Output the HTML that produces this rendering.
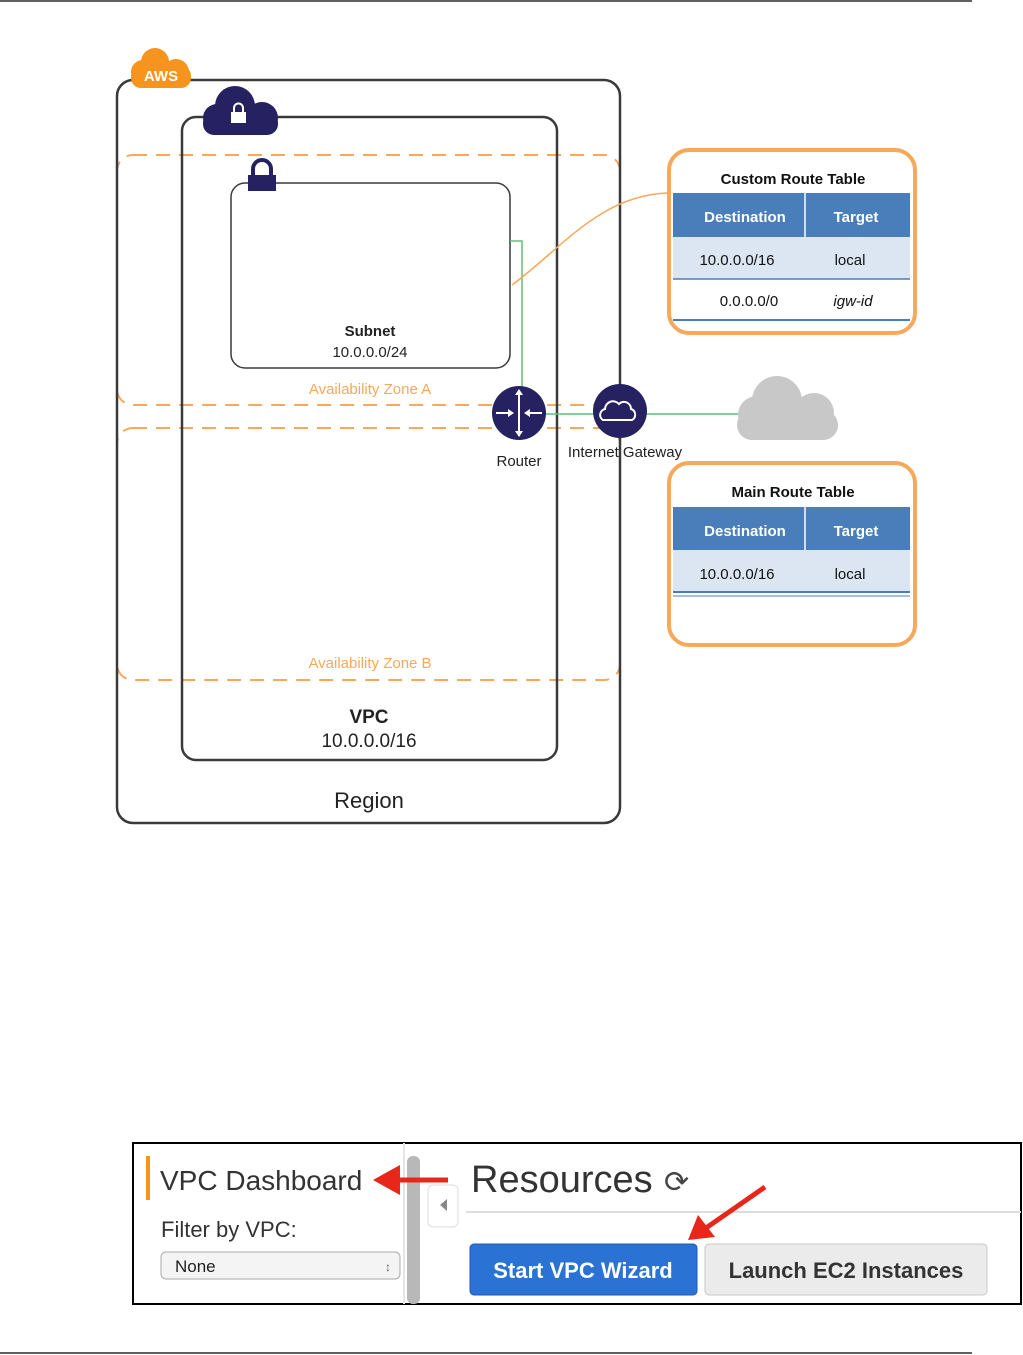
<!DOCTYPE html>
<html><head><meta charset="utf-8"><style>
html,body{margin:0;padding:0;background:#fff;}
svg{display:block;font-family:"Liberation Sans",sans-serif;}
</style></head><body>
<svg width="1023" height="1355" viewBox="0 0 1023 1355" xmlns="http://www.w3.org/2000/svg">
<line x1="0" y1="1" x2="972" y2="1" stroke="#000" stroke-width="1.2"/>
<line x1="0" y1="1353" x2="972" y2="1353" stroke="#000" stroke-width="1.2"/>

<rect x="117" y="155" width="503" height="250" rx="16" fill="none" stroke="#f7a85a" stroke-width="2" stroke-dasharray="14,9"/>
<rect x="117" y="428" width="503" height="252" rx="16" fill="none" stroke="#f7a85a" stroke-width="2" stroke-dasharray="14,9"/>
<rect x="117" y="80" width="503" height="743" rx="16" fill="none" stroke="#3a3a3a" stroke-width="2.5"/>
<rect x="182" y="117" width="375" height="643" rx="14" fill="none" stroke="#3a3a3a" stroke-width="2.5"/>
<rect x="231" y="183" width="279" height="185" rx="14" fill="#fff" stroke="#3a3a3a" stroke-width="1.5"/>

<g fill="#f7941d">
<circle cx="155" cy="62" r="14"/><circle cx="143" cy="72" r="12"/><circle cx="176" cy="72" r="13"/>
<rect x="131" y="66" width="60" height="22" rx="10"/>
</g>
<text x="161" y="81" font-size="15" font-weight="bold" fill="#fff" text-anchor="middle">AWS</text>
<g fill="#262261">
<circle cx="235" cy="106" r="20"/><circle cx="217" cy="118" r="14"/><circle cx="262" cy="118" r="16"/>
<rect x="203" y="112" width="75" height="23" rx="11"/>
</g>
<rect x="231" y="112" width="15" height="11" fill="#fff"/>
<path d="M234 112 v-4 a4.5 4.5 0 0 1 9 0 v4" fill="none" stroke="#fff" stroke-width="2"/>
<rect x="248" y="175" width="28" height="16" fill="#262261"/>
<path d="M253 175 v-6 a9 9 0 0 1 18 0 v6" fill="none" stroke="#262261" stroke-width="4"/>

<polyline points="510,241 522,241 522,400" fill="none" stroke="#5cc27a" stroke-width="1.5"/>
<line x1="519" y1="414" x2="740" y2="414" stroke="#5cc27a" stroke-width="1.5"/>
<path d="M512 285 C560 250,600 195,668 193" fill="none" stroke="#f7a85a" stroke-width="1.5"/>

<circle cx="519" cy="413" r="27" fill="#262261"/>
<g stroke="#fff" stroke-width="2" fill="#fff">
<line x1="519" y1="390" x2="519" y2="436"/>
<line x1="496" y1="413" x2="512" y2="413"/><line x1="526" y1="413" x2="542" y2="413"/>
<polygon points="515,395 523,395 519,389" stroke="none"/><polygon points="515,431 523,431 519,437" stroke="none"/>
<polygon points="508,409 508,417 514,413" stroke="none"/><polygon points="530,409 530,417 524,413" stroke="none"/>
</g>
<circle cx="620" cy="411" r="27" fill="#262261"/>
<path d="M603 420 a6 6 0 0 1 2 -11 a8 8 0 0 1 14 -5 a7 7 0 0 1 12 5 a6 6 0 0 1 1 11 z" fill="none" stroke="#fff" stroke-width="2"/>
<g fill="#c8c8c8">
<circle cx="777" cy="401" r="25"/><circle cx="757" cy="415" r="19"/><circle cx="814" cy="413" r="20"/>
<rect x="737" y="410" width="101" height="30" rx="15"/>
</g>

<g font-size="15" fill="#222" text-anchor="middle">
<text x="370" y="336" font-weight="bold">Subnet</text>
<text x="370" y="357">10.0.0.0/24</text>
<text x="370" y="394" fill="#f7a85a">Availability Zone A</text>
<text x="370" y="668" fill="#f7a85a">Availability Zone B</text>
<text x="369" y="723" font-size="19" font-weight="bold">VPC</text>
<text x="369" y="747" font-size="19">10.0.0.0/16</text>
<text x="369" y="808" font-size="22">Region</text>
<text x="519" y="466">Router</text>
<text x="625" y="457">Internet Gateway</text>
</g>

<rect x="673" y="193" width="237" height="44" fill="#4a7ebb"/>
<rect x="673" y="237" width="237" height="42" fill="#dce6f2"/>
<rect x="673" y="279" width="237" height="41" fill="#fff"/>
<line x1="673" y1="279" x2="910" y2="279" stroke="#4a7ebb" stroke-width="1.5"/>
<line x1="673" y1="320" x2="910" y2="320" stroke="#4a7ebb" stroke-width="2"/>
<line x1="805" y1="193" x2="805" y2="237" stroke="#fff" stroke-width="1.5"/>
<rect x="669" y="150" width="246" height="183" rx="20" fill="none" stroke="#f7a85a" stroke-width="4"/>
<g font-size="15" text-anchor="middle" fill="#111">
<text x="793" y="184" font-weight="bold">Custom Route Table</text>
<text x="745" y="222" font-weight="bold" fill="#fff">Destination</text>
<text x="856" y="222" font-weight="bold" fill="#fff">Target</text>
<text x="737" y="265">10.0.0.0/16</text>
<text x="850" y="265">local</text>
<text x="749" y="306">0.0.0.0/0</text>
<text x="853" y="306" font-style="italic">igw-id</text>
</g>
<rect x="673" y="507" width="237" height="43" fill="#4a7ebb"/>
<rect x="673" y="550" width="237" height="42" fill="#dce6f2"/>
<line x1="673" y1="592" x2="910" y2="592" stroke="#4a7ebb" stroke-width="2"/>
<line x1="673" y1="596" x2="910" y2="596" stroke="#4a7ebb" stroke-width="1"/>
<line x1="805" y1="507" x2="805" y2="550" stroke="#fff" stroke-width="1.5"/>
<rect x="669" y="463" width="246" height="182" rx="20" fill="none" stroke="#f7a85a" stroke-width="4"/>
<g font-size="15" text-anchor="middle" fill="#111">
<text x="793" y="497" font-weight="bold">Main Route Table</text>
<text x="745" y="536" font-weight="bold" fill="#fff">Destination</text>
<text x="856" y="536" font-weight="bold" fill="#fff">Target</text>
<text x="737" y="579">10.0.0.0/16</text>
<text x="850" y="579">local</text>
</g>

<rect x="133" y="1143" width="888" height="161" fill="#fff" stroke="#000" stroke-width="2"/>
<rect x="146" y="1156" width="4" height="44" fill="#f7941d"/>
<text x="160" y="1190" font-size="28" fill="#333">VPC Dashboard</text>
<text x="161" y="1237" font-size="22" fill="#333">Filter by VPC:</text>
<rect x="161" y="1252" width="239" height="27" rx="5" fill="#f4f4f4" stroke="#aaa"/>
<text x="175" y="1272" font-size="17" fill="#222">None</text>
<text x="385" y="1271" font-size="12" fill="#666">↕</text>
<rect x="403" y="1143" width="2" height="161" fill="#e5e5e5"/>
<rect x="407" y="1156" width="13" height="148" rx="6" fill="#b8b8b8"/>
<line x1="448" y1="1180" x2="395" y2="1180" stroke="#e8261a" stroke-width="5"/>
<polygon points="373,1180 400,1165 400,1195" fill="#e8261a"/>
<rect x="428" y="1185" width="30" height="42" rx="5" fill="#fff" stroke="#ddd"/>
<polygon points="440,1205 447,1199 447,1211" fill="#888"/>
<text x="471" y="1192" font-size="38" fill="#333">Resources</text>
<text x="664" y="1192" font-size="30" fill="#444">⟳</text>
<line x1="466" y1="1212" x2="1021" y2="1212" stroke="#ddd" stroke-width="2"/>
<rect x="470" y="1244" width="227" height="51" rx="4" fill="#2a73d4" stroke="#1d5eb5"/>
<text x="583" y="1278" font-size="22" font-weight="bold" fill="#fff" text-anchor="middle">Start VPC Wizard</text>
<rect x="705" y="1244" width="282" height="51" rx="4" fill="#ebebeb" stroke="#c8c8c8"/>
<text x="846" y="1278" font-size="22" font-weight="bold" fill="#333" text-anchor="middle">Launch EC2 Instances</text>
<line x1="765" y1="1187" x2="706" y2="1228" stroke="#e8261a" stroke-width="5"/>
<polygon points="688,1240 698,1215 715,1237" fill="#e8261a"/>
</svg>
</body></html>
